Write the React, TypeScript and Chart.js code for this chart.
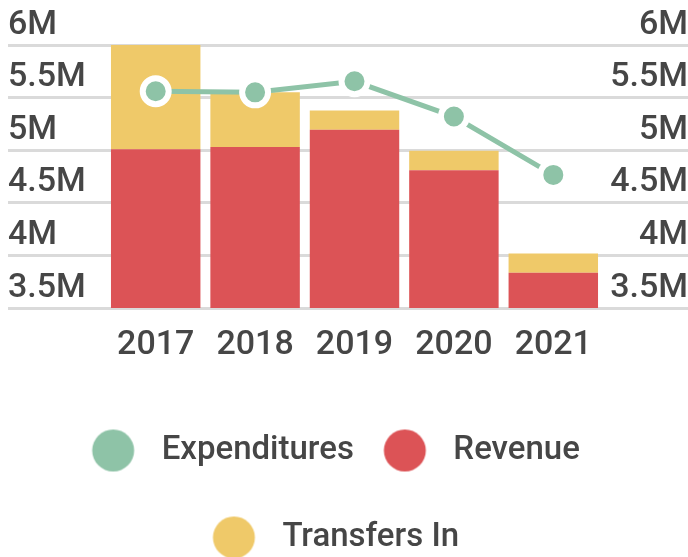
import React, { useEffect, useRef } from "react";
import { Chart, registerables } from "chart.js";

Chart.register(...registerables);

const years = ["2017", "2018", "2019", "2020", "2021"];
const expenditures = [5560000, 5550000, 5655000, 5320000, 4765000];
const revenue = [5010000, 5030000, 5195000, 4810000, 3835000];
const transfersIn = [1050000, 520000, 182000, 184000, 182000];
const seriesNames = ["Expenditures", "Revenue", "Transfers In"];
const seriesColors = ["#8ec3a7", "#dc5356", "#efc969"];

const TEXT = "#464646";
const GRID = "#dadada";
const FONT = "Roboto";
const WEIGHT = 500;

function legendDot(color: string): HTMLCanvasElement {
  const c = document.createElement("canvas");
  c.width = 80;
  c.height = 44;
  const g = c.getContext("2d")!;
  g.fillStyle = color;
  g.beginPath();
  g.arc(22.5, 22, 21, 0, Math.PI * 2);
  g.fill();
  return c;
}

export default function App() {
  const ref = useRef<HTMLCanvasElement>(null);
  useEffect(() => {
    if (!ref.current) return;
    const dots = seriesColors.map(legendDot);
    const tickCb = (v: any) => v / 1e6 + "M";
    const chart = new Chart(ref.current, {
      type: "bar",
      data: {
        labels: years,
        datasets: [
          {
            type: "line",
            label: seriesNames[0],
            data: expenditures,
            borderColor: seriesColors[0],
            backgroundColor: seriesColors[0],
            borderWidth: 5,
            pointRadius: 13,
            pointHoverRadius: 13,
            pointBorderWidth: 6,
            pointBorderColor: "#ffffff",
            pointBackgroundColor: seriesColors[0],
            stack: "exp",
            yAxisID: "y",
          } as any,
          {
            type: "bar",
            label: seriesNames[1],
            data: revenue,
            backgroundColor: seriesColors[1],
            stack: "inc",
            barPercentage: 0.9,
            categoryPercentage: 1,
            yAxisID: "y",
          },
          {
            type: "bar",
            label: seriesNames[2],
            data: transfersIn,
            backgroundColor: seriesColors[2],
            stack: "inc",
            barPercentage: 0.9,
            categoryPercentage: 1,
            yAxisID: "y",
          },
        ],
      },
      options: {
        animation: false,
        responsive: true,
        maintainAspectRatio: false,
        layout: { padding: { top: 37 } },
        font: { family: FONT },
        scales: {
          x: {
            stacked: true,
            grid: { display: false, drawTicks: false, tickLength: 0 },
            border: { display: false },
            ticks: {
              color: TEXT,
              font: { family: FONT, size: 34, weight: WEIGHT },
              padding: 17,
              maxRotation: 0,
              autoSkip: false,
            },
            afterFit: (s: any) => {
              s.height = 72;
            },
          },
          y: {
            position: "left",
            stacked: true,
            min: 3500000,
            max: 6000000,
            grid: { color: GRID, lineWidth: 3, tickLength: 98, drawTicks: true },
            border: { display: false },
            ticks: {
              stepSize: 500000,
              color: TEXT,
              font: { family: FONT, size: 34, weight: WEIGHT },
              crossAlign: "far",
              labelOffset: -20,
              callback: tickCb,
            },
            afterFit: (s: any) => {
              s.width = 98;
            },
          },
          y2: {
            position: "right",
            min: 3500000,
            max: 6000000,
            grid: { color: GRID, lineWidth: 3, tickLength: 85, drawTicks: true, drawOnChartArea: false },
            border: { display: false },
            ticks: {
              stepSize: 500000,
              color: TEXT,
              font: { family: FONT, size: 34, weight: WEIGHT },
              crossAlign: "far",
              labelOffset: -20,
              callback: tickCb,
            },
            afterFit: (s: any) => {
              s.width = 85;
            },
          },
        },
        plugins: {
          tooltip: { enabled: false },
          legend: {
            position: "bottom",
            labels: {
              usePointStyle: true,
              boxWidth: 29,
              boxHeight: 29,
              padding: 54,
              color: TEXT,
              font: { family: FONT, size: 33, weight: WEIGHT },
              generateLabels: (ch: any) => {
                const items = (Chart.defaults.plugins.legend.labels as any).generateLabels(ch);
                return items.map((it: any) => ({ ...it, pointStyle: dots[it.datasetIndex] }));
              },
            },
          },
        },
      },
    });
    return () => chart.destroy();
  }, []);
  return (
    <div style={{ position: "fixed", left: 8, top: 8, width: 680, height: 556 }}>
      <canvas ref={ref} />
    </div>
  );
}
